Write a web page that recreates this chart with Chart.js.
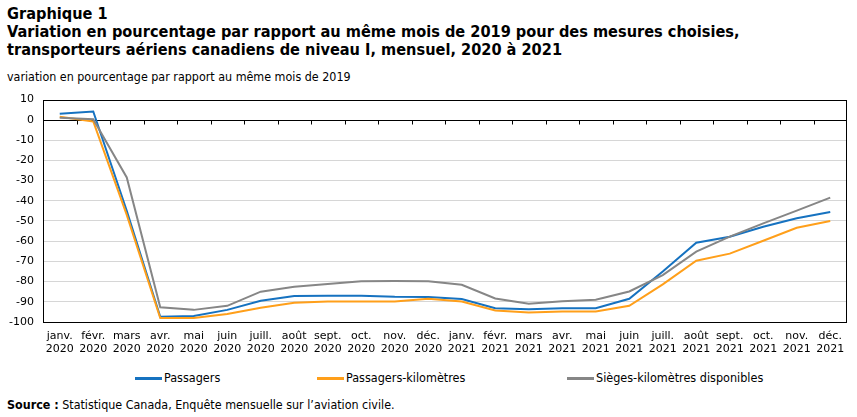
<!DOCTYPE html>
<html><head><meta charset="utf-8">
<script src="https://cdn.jsdelivr.net/npm/chart.js@4.4.1/dist/chart.umd.min.js"></script>
<style>
html,body{margin:0;padding:0;background:#fff;}
body{width:857px;height:417px;overflow:hidden;position:relative;color:#000;}
.cond{font-family:"DejaVu Sans Condensed","Liberation Sans",Arial,sans-serif;}
#title{position:absolute;left:7px;top:5px;font-weight:bold;font-size:16.2px;line-height:18px;white-space:nowrap;}
#sub{position:absolute;left:7px;top:69px;font-size:12.4px;white-space:nowrap;}
#wrap{position:absolute;left:0;top:84px;width:857px;height:281px;}
#leg{position:absolute;left:0;top:370px;width:857px;height:16px;font-size:12.5px;}
.li{position:absolute;top:0;white-space:nowrap;line-height:16px;}
.ln{position:absolute;top:7px;width:27px;height:3px;}
.lt{position:absolute;left:29px;top:0;}
#src{position:absolute;left:7px;top:397px;font-size:12.4px;white-space:nowrap;}
</style>
</head><body>
<div id="title" class="cond">Graphique 1<br>Variation en pourcentage par rapport au même mois de 2019 pour des mesures choisies,<br>transporteurs aériens canadiens de niveau I, mensuel, 2020 à 2021</div>
<div id="sub" class="cond">variation en pourcentage par rapport au même mois de 2019</div>
<div id="wrap"><canvas id="c"></canvas></div>
<div id="leg" class="cond"></div>
<div id="src" class="cond"><b>Source :</b> Statistique Canada, Enquête mensuelle sur l’aviation civile.</div>
<script>
const months = ["janv.","févr.","mars","avr.","mai","juin","juill.","août","sept.","oct.","nov.","déc."];
const years = ["2020","2021"];
const categories = [];
years.forEach(y => months.forEach(m => categories.push([m, y])));

const passagers = [3, 4.1, -45, -97.4, -97, -94, -89.5, -87.2, -87, -87, -87.5, -87.6,
                   -88.6, -93.2, -93.7, -93.2, -93.2, -88.5, -75, -60.8, -57.8, -52.9, -48.7, -45.6];
const passagersKm = [1.5, -0.8, -47, -98, -98, -96, -93, -90.5, -89.8, -89.8, -89.8, -88.5,
                     -89.9, -94.3, -95.3, -94.8, -94.8, -92, -81.4, -69.7, -66.2, -59.8, -53.4, -50];
const siegesKm = [1, 0.3, -28.5, -92.7, -94, -92, -85, -82.6, -81.2, -79.8, -79.7, -79.8,
                  -81.6, -88.4, -91, -89.7, -89, -84.9, -76.8, -65.2, -57.8, -51.2, -44.9, -38.5];
const seriesNames = ["Passagers", "Passagers-kilomètres", "Sièges-kilomètres disponibles"];
const yTicks = [10, 0, -10, -20, -30, -40, -50, -60, -70, -80, -90, -100];

const colors = ["#1672c0", "#ff9f1a", "#868686"];
const tickFont = {family: "'DejaVu Sans', Verdana, sans-serif", size: 11};

const frame = {
  id: 'frame',
  beforeDatasetsDraw(chart) {
    const {ctx, chartArea: a, scales: {x, y}} = chart;
    const y0 = Math.round(y.getPixelForValue(0)) + 0.5;
    ctx.save();
    ctx.strokeStyle = '#000';
    ctx.lineWidth = 1;
    ctx.beginPath();
    ctx.moveTo(a.left, y0); ctx.lineTo(a.right, y0);
    for (let i = 1; i < categories.length; i++) {
      const px = Math.round((x.getPixelForValue(i - 1) + x.getPixelForValue(i)) / 2) + 0.5;
      ctx.moveTo(px, y0); ctx.lineTo(px, y0 + 4);
    }
    ctx.stroke();
    ctx.restore();
  },
  afterDatasetsDraw(chart) {
    const {ctx, chartArea: a} = chart;
    ctx.save();
    ctx.strokeStyle = '#000';
    ctx.lineWidth = 1;
    ctx.strokeRect(Math.round(a.left) + 0.5, Math.round(a.top) + 0.5,
                   Math.round(a.right - a.left) - 1, Math.round(a.bottom - a.top));
    ctx.restore();
  }
};

const datasets = [passagers, passagersKm, siegesKm].map((d, i) => ({
  label: seriesNames[i], data: d, borderColor: colors[i], backgroundColor: colors[i],
  borderWidth: 2, pointRadius: 0, pointHoverRadius: 0, tension: 0, fill: false, order: 2 - i
}));

new Chart(document.getElementById('c'), {
  type: 'line',
  data: {labels: categories, datasets},
  plugins: [frame],
  options: {
    responsive: true, maintainAspectRatio: false, animation: false,
    layout: {padding: {top: 8, right: 10, left: 0, bottom: 0}},
    plugins: {legend: {display: false}, tooltip: {enabled: false}, title: {display: false}},
    scales: {
      x: {
        offset: true,
        grid: {display: false, drawTicks: false},
        border: {display: false},
        ticks: {autoSkip: false, maxRotation: 0, minRotation: 0, color: '#000', padding: 8,
                font: {...tickFont, lineHeight: 1.15}},
        afterFit: s => { s.height = 43; }
      },
      y: {
        min: -100, max: 10,
        afterBuildTicks: s => { s.ticks = yTicks.map(v => ({value: v})); },
        grid: {
          drawTicks: false,
          color: c => (c.tick && (c.tick.value === 10 || c.tick.value === -100 || c.tick.value === 0)) ? 'rgba(0,0,0,0)' : '#d6d6d6',
          lineWidth: 1
        },
        border: {display: false},
        ticks: {color: '#000', padding: 9, font: tickFont},
        afterFit: s => { s.width = 43; }
      }
    }
  }
});

// Legend
const leg = document.getElementById('leg');
const legLeft = [135, 317, 567];
seriesNames.forEach((n, i) => {
  const it = document.createElement('div');
  it.className = 'li';
  it.style.left = legLeft[i] + 'px';
  it.innerHTML = '<div class="ln" style="background:' + colors[i] + '"></div><span class="lt">' + n + '</span>';
  leg.appendChild(it);
});
</script>
</body></html>
